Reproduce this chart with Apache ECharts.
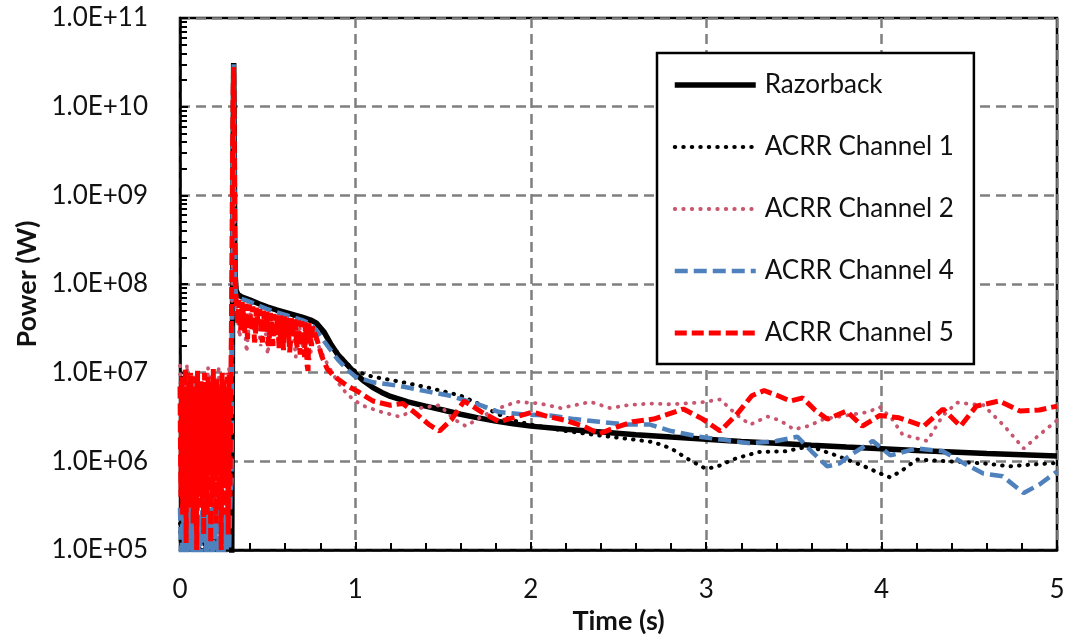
<!DOCTYPE html>
<html>
<head>
<meta charset="utf-8">
<script src="https://cdn.jsdelivr.net/npm/echarts@6/dist/echarts.min.js"></script>
<style>
  html, body { margin: 0; background: #fff; }
  #chart { width: 1069px; height: 640px; }
</style>
</head>
<body>
<div id="chart"></div>
<script>
// axis labels
const xTickLabels = ['0', '1', '2', '3', '4', '5'];
const yTickLabels = ['1.0E+05', '1.0E+06', '1.0E+07', '1.0E+08', '1.0E+09', '1.0E+10', '1.0E+11'];
const seriesNames = ['Razorback', 'ACRR Channel 1', 'ACRR Channel 2', 'ACRR Channel 4', 'ACRR Channel 5'];

// Razorback (solid black)
const razorT = [0.28, 0.295, 0.300, 0.303, 0.306, 0.309, 0.312, 0.315, 0.32, 0.33,
  0.35, 0.40, 0.45, 0.50, 0.55, 0.60, 0.65, 0.70, 0.75, 0.78,
  0.82, 0.86, 0.90, 0.95, 1.00, 1.05, 1.10, 1.15, 1.20, 1.30,
  1.40, 1.50, 1.60, 1.70, 1.80, 1.90, 2.00, 2.20, 2.40, 2.60,
  2.80, 3.00, 3.20, 3.40, 3.60, 3.80, 4.00, 4.20, 4.40, 4.60,
  4.80, 5.00];
const razorP = [5e4, 8e4, 1e8, 3e9, 3.1e10, 5e9, 3e8, 1.2e8, 8.5e7, 7.6e7,
  7.2e7, 6.6e7, 6.0e7, 5.5e7, 5.1e7, 4.8e7, 4.5e7, 4.2e7, 3.9e7, 3.6e7,
  2.9e7, 2.1e7, 1.6e7, 1.25e7, 9.8e6, 8.0e6, 6.8e6, 6.0e6, 5.4e6, 4.7e6,
  4.2e6, 3.8e6, 3.4e6, 3.1e6, 2.85e6, 2.65e6, 2.5e6, 2.3e6, 2.15e6, 2.0e6,
  1.88e6, 1.78e6, 1.68e6, 1.6e6, 1.52e6, 1.45e6, 1.39e6, 1.33e6, 1.28e6, 1.23e6,
  1.19e6, 1.15e6];

// ACRR Channel 1 (black dotted)
const ch1T = [0, 0.01, 0.02, 0.03, 0.04, 0.05, 0.06, 0.07, 0.08, 0.09,
  0.10, 0.11, 0.12, 0.13, 0.14, 0.15, 0.16, 0.17, 0.18, 0.19,
  0.20, 0.21, 0.22, 0.23, 0.24, 0.25, 0.26, 0.27, 0.28, 0.29,
  0.295, 0.300, 0.303, 0.306, 0.309, 0.312, 0.316,
  0.33, 0.40, 0.50, 0.60, 0.70, 0.75, 0.80, 0.85, 0.90, 0.95,
  1.00, 1.10, 1.20, 1.30, 1.40, 1.50, 1.60, 1.70, 1.80, 1.90,
  2.00, 2.20, 2.40, 2.60, 2.70, 2.80, 2.90, 3.00, 3.08, 3.15,
  3.30, 3.45, 3.59, 3.74, 3.89, 4.00, 4.05, 4.12, 4.20, 4.39,
  4.58, 4.73, 4.85, 5.00];
const ch1P = [2e5, 6e4, 1.5e5, 8e4, 3e5, 5e4, 1.2e5, 7e4, 2.5e5, 6e4,
  1.8e5, 9e4, 2.2e5, 5e4, 1.4e5, 8e4, 2.8e5, 6e4, 1.6e5, 7e4,
  2e5, 5e4, 1.3e5, 9e4, 2.5e5, 6e4, 1.7e5, 8e4, 2.2e5, 1e5,
  1e5, 2e8, 5e9, 3e10, 4e9, 2e8, 9e7,
  7.4e7, 6.4e7, 5.4e7, 4.7e7, 4.1e7, 3.8e7, 3.1e7, 2.3e7, 1.65e7, 1.28e7,
  1.04e7, 9.0e6, 8.3e6, 7.6e6, 6.9e6, 6.2e6, 5.5e6, 4.5e6, 3.5e6, 2.9e6,
  2.6e6, 2.2e6, 1.95e6, 1.75e6, 1.65e6, 1.4e6, 1.05e6, 8.2e5, 9.0e5, 1.05e6,
  1.28e6, 1.3e6, 1.48e6, 1.17e6, 9.0e5, 7.2e5, 6.6e5, 8.0e5, 1.05e6, 1.0e6,
  9.5e5, 8.8e5, 9.2e5, 9.6e5];

// ACRR Channel 2 (pink dotted)
const ch2T = [0, 0.01, 0.02, 0.03, 0.04, 0.05, 0.06, 0.07, 0.08, 0.09,
  0.10, 0.11, 0.12, 0.13, 0.14, 0.15, 0.16, 0.17, 0.18, 0.19,
  0.20, 0.21, 0.22, 0.23, 0.24, 0.25, 0.26, 0.27, 0.28, 0.29,
  0.295, 0.300, 0.303, 0.306, 0.309, 0.312, 0.316,
  0.32, 0.34, 0.36, 0.38, 0.40, 0.42, 0.44, 0.46, 0.48, 0.50,
  0.52, 0.54, 0.56, 0.58, 0.60, 0.62, 0.64, 0.66, 0.68, 0.70,
  0.72, 0.74, 0.76,
  0.80, 0.85, 0.90, 0.95, 1.00, 1.05, 1.15, 1.25, 1.37, 1.48,
  1.56, 1.63, 1.72, 1.82, 1.92, 2.05, 2.17, 2.25, 2.34, 2.45,
  2.55, 2.68, 2.80, 2.96, 3.08, 3.17, 3.25, 3.35, 3.42, 3.50,
  3.58, 3.67, 3.80, 3.92, 3.99, 4.06, 4.12, 4.26, 4.35, 4.43,
  4.58, 4.70, 4.81, 4.90, 5.00];
const ch2P = [1.2e7, 2e6, 8e6, 3e6, 1.25e7, 1.5e6, 7e6, 4e6, 9e6, 2.5e6,
  1e7, 1.8e6, 7.5e6, 3.5e6, 8e6, 2e6, 1.15e7, 3e6, 9e6, 1.5e6,
  7e6, 4e6, 1.2e7, 2.2e6, 8e6, 3e6, 1e7, 1.8e6, 1.2e7, 5e6,
  2e7, 5e8, 6e9, 2.9e10, 5e9, 4e8, 1e8,
  6e7, 2.5e7, 5.5e7, 1.7e7, 5e7, 3e7, 4.8e7, 2e7, 4.5e7, 1.6e7,
  4.2e7, 2.6e7, 4e7, 1.9e7, 3.8e7, 2.3e7, 3.6e7, 1.5e7, 3.4e7, 2e7,
  3.2e7, 1.4e7, 2.8e7,
  1.8e7, 1.15e7, 7.8e6, 5.8e6, 4.8e6, 4.2e6, 3.6e6, 3.2e6, 4.0e6, 4.3e6,
  3.0e6, 2.5e6, 3.2e6, 4.0e6, 4.7e6, 4.5e6, 4.0e6, 4.3e6, 4.7e6, 4.0e6,
  4.3e6, 4.5e6, 4.4e6, 4.6e6, 5.0e6, 3.4e6, 2.6e6, 3.2e6, 2.9e6, 2.3e6,
  2.5e6, 3.0e6, 3.3e6, 3.6e6, 4.1e6, 3.0e6, 2.0e6, 1.7e6, 3.3e6, 4.6e6,
  4.3e6, 2.5e6, 1.4e6, 2.0e6, 2.9e6];

// ACRR Channel 4 (blue dashed)
const ch4T = [0, 0.008, 0.016, 0.024, 0.032, 0.04, 0.048, 0.056, 0.064, 0.072,
  0.08, 0.088, 0.096, 0.104, 0.112, 0.12, 0.128, 0.136, 0.144, 0.152,
  0.16, 0.168, 0.176, 0.184, 0.192, 0.2, 0.208, 0.216, 0.224, 0.232,
  0.24, 0.248, 0.256, 0.264, 0.272, 0.28, 0.288,
  0.294, 0.298, 0.302, 0.306, 0.309, 0.312, 0.316, 0.32,
  0.35, 0.40, 0.45, 0.50, 0.55, 0.60, 0.65, 0.70, 0.75, 0.80,
  0.85, 0.90, 0.95, 1.00, 1.10, 1.25, 1.40, 1.54, 1.70, 1.82,
  1.95, 2.11, 2.25, 2.39, 2.55, 2.68, 2.80, 2.96, 3.10, 3.25,
  3.40, 3.52, 3.60, 3.69, 3.76, 3.82, 3.95, 4.05, 4.20, 4.35,
  4.47, 4.58, 4.69, 4.81, 4.90, 5.00];
const ch4P = [3e5, 6e4, 5e5, 8e4, 2e5, 4e4, 7e5, 1e5, 3e5, 5e4,
  4e5, 7e4, 6e5, 9e4, 2.5e5, 4e4, 5e5, 1.2e5, 3.5e5, 6e4,
  8e5, 8e4, 3e5, 5e4, 4.5e5, 1e5, 6e5, 7e4, 2e5, 4e4,
  5e5, 9e4, 3e5, 6e4, 7e5, 1e5, 4e5,
  6e5, 5e7, 3e9, 3e10, 4e9, 3e8, 9e7, 7e7,
  6.8e7, 6.3e7, 5.7e7, 5.2e7, 4.8e7, 4.5e7, 4.2e7, 3.9e7, 3.5e7, 2.6e7,
  1.9e7, 1.4e7, 1.1e7, 9e6, 7.8e6, 7.1e6, 6.2e6, 5.5e6, 4.4e6, 3.6e6,
  3.4e6, 3.3e6, 3.0e6, 2.8e6, 2.6e6, 2.6e6, 2.2e6, 1.9e6, 1.75e6, 1.6e6,
  1.7e6, 1.9e6, 1.3e6, 8.8e5, 9.5e5, 1.17e6, 1.7e6, 1.17e6, 1.4e6, 1.3e6,
  9.5e5, 7.3e5, 6.8e5, 4.4e5, 5.5e5, 7.7e5];

// ACRR Channel 5 (red dashed)
const ch5T = [0, 0.005, 0.01, 0.015, 0.02, 0.025, 0.03, 0.035, 0.04, 0.045,
  0.05, 0.055, 0.06, 0.065, 0.07, 0.075, 0.08, 0.085, 0.09, 0.095,
  0.1, 0.105, 0.11, 0.115, 0.12, 0.125, 0.13, 0.135, 0.14, 0.145,
  0.15, 0.155, 0.16, 0.165, 0.17, 0.175, 0.18, 0.185, 0.19, 0.195,
  0.2, 0.205, 0.21, 0.215, 0.22, 0.225, 0.23, 0.235, 0.24, 0.245,
  0.25, 0.255, 0.26, 0.265, 0.27, 0.275, 0.28, 0.285, 0.29,
  0.293, 0.297, 0.300, 0.303, 0.306, 0.309, 0.312, 0.316,
  0.320, 0.325, 0.330, 0.335, 0.340, 0.345, 0.350, 0.355, 0.360, 0.365,
  0.370, 0.375, 0.380, 0.385, 0.390, 0.395, 0.400, 0.405, 0.410, 0.415,
  0.420, 0.425, 0.430, 0.435, 0.440, 0.445, 0.450, 0.455, 0.460, 0.465,
  0.470, 0.475, 0.480, 0.485, 0.490, 0.495, 0.500, 0.505, 0.510, 0.515,
  0.520, 0.525, 0.530, 0.535, 0.540, 0.545, 0.550, 0.555, 0.560, 0.565,
  0.570, 0.575, 0.580, 0.585, 0.590, 0.595, 0.600, 0.605, 0.610, 0.615,
  0.620, 0.625, 0.630, 0.635, 0.640, 0.645, 0.650, 0.655, 0.660, 0.665,
  0.670, 0.675, 0.680, 0.685, 0.690, 0.695, 0.700, 0.705, 0.710, 0.715,
  0.720, 0.725, 0.730, 0.735, 0.740, 0.745, 0.750, 0.755, 0.760,
  0.78, 0.81, 0.84, 0.87, 0.90, 0.95, 1.01, 1.10, 1.20, 1.27,
  1.35, 1.42, 1.48, 1.55, 1.62, 1.72, 1.82, 1.92, 2.01, 2.10,
  2.20, 2.30, 2.39, 2.48, 2.58, 2.70, 2.87, 2.98, 3.08, 3.18,
  3.26, 3.33, 3.40, 3.48, 3.55, 3.62, 3.69, 3.80, 3.89, 3.99,
  4.10, 4.24, 4.35, 4.45, 4.54, 4.67, 4.79, 4.90, 5.00];
const ch5P = [7e6, 4e5, 9e6, 2.5e5, 6e6, 7e5, 1.1e7, 1.2e5, 5e6, 5e5,
  8e6, 3e5, 1e7, 8e5, 4e6, 2e5, 9e6, 6e5, 7e6, 1e5,
  1.05e7, 4e5, 5e6, 9e5, 8e6, 3e5, 6e6, 1.5e5, 1e7, 5e5,
  7e6, 2.5e5, 9e6, 7e5, 4.5e6, 1.2e5, 8e6, 4e5, 1.1e7, 6e5,
  6e6, 2e5, 9e6, 9e5, 7e6, 3e5, 5e6, 1e5, 1e7, 5e5,
  8e6, 2.5e5, 6e6, 7e5, 9e6, 1.5e5, 1e7, 4e5, 8e6,
  3e7, 4e8, 3e9, 1.5e10, 2.8e10, 5e9, 4e8, 1.1e8,
  7e7, 4.5e7, 3.5e7, 6.6e7, 6.5e7, 3e7, 4e7, 6.3e7, 6.2e7, 3.8e7,
  2.8e7, 6e7, 6e7, 2.4e7, 4.2e7, 5.9e7, 5.8e7, 3.4e7, 3e7, 5.6e7,
  5.5e7, 2.2e7, 2.5e7, 5.4e7, 5.3e7, 3.8e7, 3.5e7, 5.2e7, 5.1e7, 2.6e7,
  2.2e7, 5e7, 5e7, 3e7, 3.2e7, 4.9e7, 4.8e7, 2e7, 2.6e7, 4.7e7,
  4.7e7, 3.3e7, 2e7, 4.6e7, 4.6e7, 2.7e7, 3e7, 4.5e7, 4.5e7, 1.9e7,
  2.4e7, 4.4e7, 4.4e7, 3e7, 1.8e7, 4.3e7, 4.3e7, 2.5e7, 2.8e7, 4.2e7,
  4.2e7, 1.7e7, 2.2e7, 4.1e7, 4.1e7, 2.9e7, 2.6e7, 4e7, 4e7, 2.1e7,
  1.9e7, 3.9e7, 3.9e7, 1.6e7, 2.5e7, 3.8e7, 3.8e7, 2.3e7, 1.5e7, 3.7e7,
  3.7e7, 1.2e7, 1.05e7, 3.6e7, 3.5e7, 2.4e7, 2e7, 3.3e7, 3.2e7,
  2.4e7, 1.5e7, 1.1e7, 9.5e6, 8.5e6, 7.2e6, 6.2e6, 4.8e6, 4.3e6, 4.5e6,
  3.4e6, 2.6e6, 2.2e6, 3.0e6, 4.8e6, 3.6e6, 2.8e6, 3.2e6, 3.6e6, 3.2e6,
  2.9e6, 2.5e6, 2.05e6, 2.4e6, 2.8e6, 3.0e6, 3.9e6, 3.0e6, 2.2e6, 3.5e6,
  5.5e6, 6.3e6, 5.6e6, 4.8e6, 5.2e6, 3.8e6, 3.0e6, 3.7e6, 2.5e6, 3.3e6,
  3.1e6, 2.5e6, 3.9e6, 2.5e6, 4.2e6, 4.8e6, 3.7e6, 3.8e6, 4.2e6];

function pairs(t, p, name) {
  if (t.length !== p.length) throw new Error(name + ' length mismatch ' + t.length + ' vs ' + p.length);
  return t.map((v, i) => [v, p[i]]);
}

// log minor ticks (2..9 in each decade)
const minorTicks = [];
for (let d = 5; d < 11; d++) {
  for (let k = 2; k <= 9; k++) minorTicks.push(k * Math.pow(10, d));
}

const font = 'Lato';
const chart = echarts.init(document.getElementById('chart'), null, { renderer: 'canvas' });

const option = {
  animation: false,
  backgroundColor: '#fff',
  grid: {
    left: 180, right: 12, top: 18, bottom: 88,
    show: true, borderColor: '#000', borderWidth: 2.5, backgroundColor: 'transparent'
  },
  legend: {
    orient: 'vertical',
    left: 657, top: 53,
    data: seriesNames,
    backgroundColor: '#fff',
    borderColor: '#000', borderWidth: 2.5,
    padding: [19, 20, 18, 15],
    itemWidth: 81, itemHeight: 20, itemGap: 36,
    itemStyle: { opacity: 0 },
    lineStyle: { width: 'inherit' },
    textStyle: { fontFamily: font, fontSize: 26, color: '#111', padding: [0, 0, 0, 4] }
  },
  xAxis: {
    type: 'value', min: 0, max: 5, interval: 1,
    name: 'Time (s)', nameLocation: 'middle', nameGap: 54,
    nameTextStyle: { fontFamily: font, fontSize: 27, fontWeight: 'bold', color: '#111' },
    axisLine: { lineStyle: { color: '#000', width: 2.5 } },
    axisTick: { inside: true, length: 8, lineStyle: { color: '#000', width: 2 } },
    minorTick: { show: true, splitNumber: 5, length: 7, lineStyle: { color: '#000', width: 2 } },
    axisLabel: { fontFamily: font, fontSize: 26, color: '#111', margin: 27,
      formatter: v => xTickLabels[Math.round(v)] },
    splitLine: { show: true, lineStyle: { color: '#7f7f7f', width: 2.5, type: [10, 6] } }
  },
  yAxis: [{
    type: 'log', logBase: 10, min: 1e5, max: 1e11, interval: 1,
    name: 'Power (W)', nameLocation: 'middle', nameGap: 136,
    nameTextStyle: { fontFamily: font, fontSize: 27, fontWeight: 'bold', color: '#111' },
    axisLine: { lineStyle: { color: '#000', width: 2.5 } },
    axisTick: { inside: true, length: 8, lineStyle: { color: '#000', width: 2 } },
    axisLabel: { fontFamily: font, fontSize: 26, color: '#111', margin: 32,
      formatter: v => yTickLabels[Math.round(Math.log10(v)) - 5] },
    splitLine: { show: true, lineStyle: { color: '#7f7f7f', width: 2.5, type: [10, 6] } }
  }, {
    type: 'log', logBase: 10, min: 1e5, max: 1e11, position: 'left',
    axisLine: { show: false },
    axisLabel: { show: false },
    splitLine: { show: false },
    axisTick: { show: true, inside: true, length: 7, customValues: minorTicks,
      lineStyle: { color: '#000', width: 2 } }
  }],
  series: [
    {
      name: seriesNames[0], type: 'line', symbol: 'none', data: pairs(razorT, razorP, 'razor'),
      lineStyle: { color: '#000', width: 5.5 }, itemStyle: { color: '#000' }
    },
    {
      name: seriesNames[1], type: 'line', symbol: 'none', data: pairs(ch1T, ch1P, 'ch1'),
      lineStyle: { color: '#000', width: 4, type: [0.5, 8], cap: 'round' }, itemStyle: { color: '#000' }
    },
    {
      name: seriesNames[2], type: 'line', symbol: 'none', data: pairs(ch2T, ch2P, 'ch2'),
      lineStyle: { color: '#C8566E', width: 3.8, type: [0.5, 8], cap: 'round' }, itemStyle: { color: '#C8566E' }
    },
    {
      name: seriesNames[3], type: 'line', symbol: 'none', data: pairs(ch4T, ch4P, 'ch4'),
      lineStyle: { color: '#4F81BD', width: 4.5, type: [13, 6] }, itemStyle: { color: '#4F81BD' }
    },
    {
      name: seriesNames[4], type: 'line', symbol: 'none', data: pairs(ch5T, ch5P, 'ch5'),
      lineStyle: { color: '#FF0000', width: 5, type: [12, 5] }, itemStyle: { color: '#FF0000' }
    }
  ]
};

chart.setOption(option);
</script>
</body>
</html>
